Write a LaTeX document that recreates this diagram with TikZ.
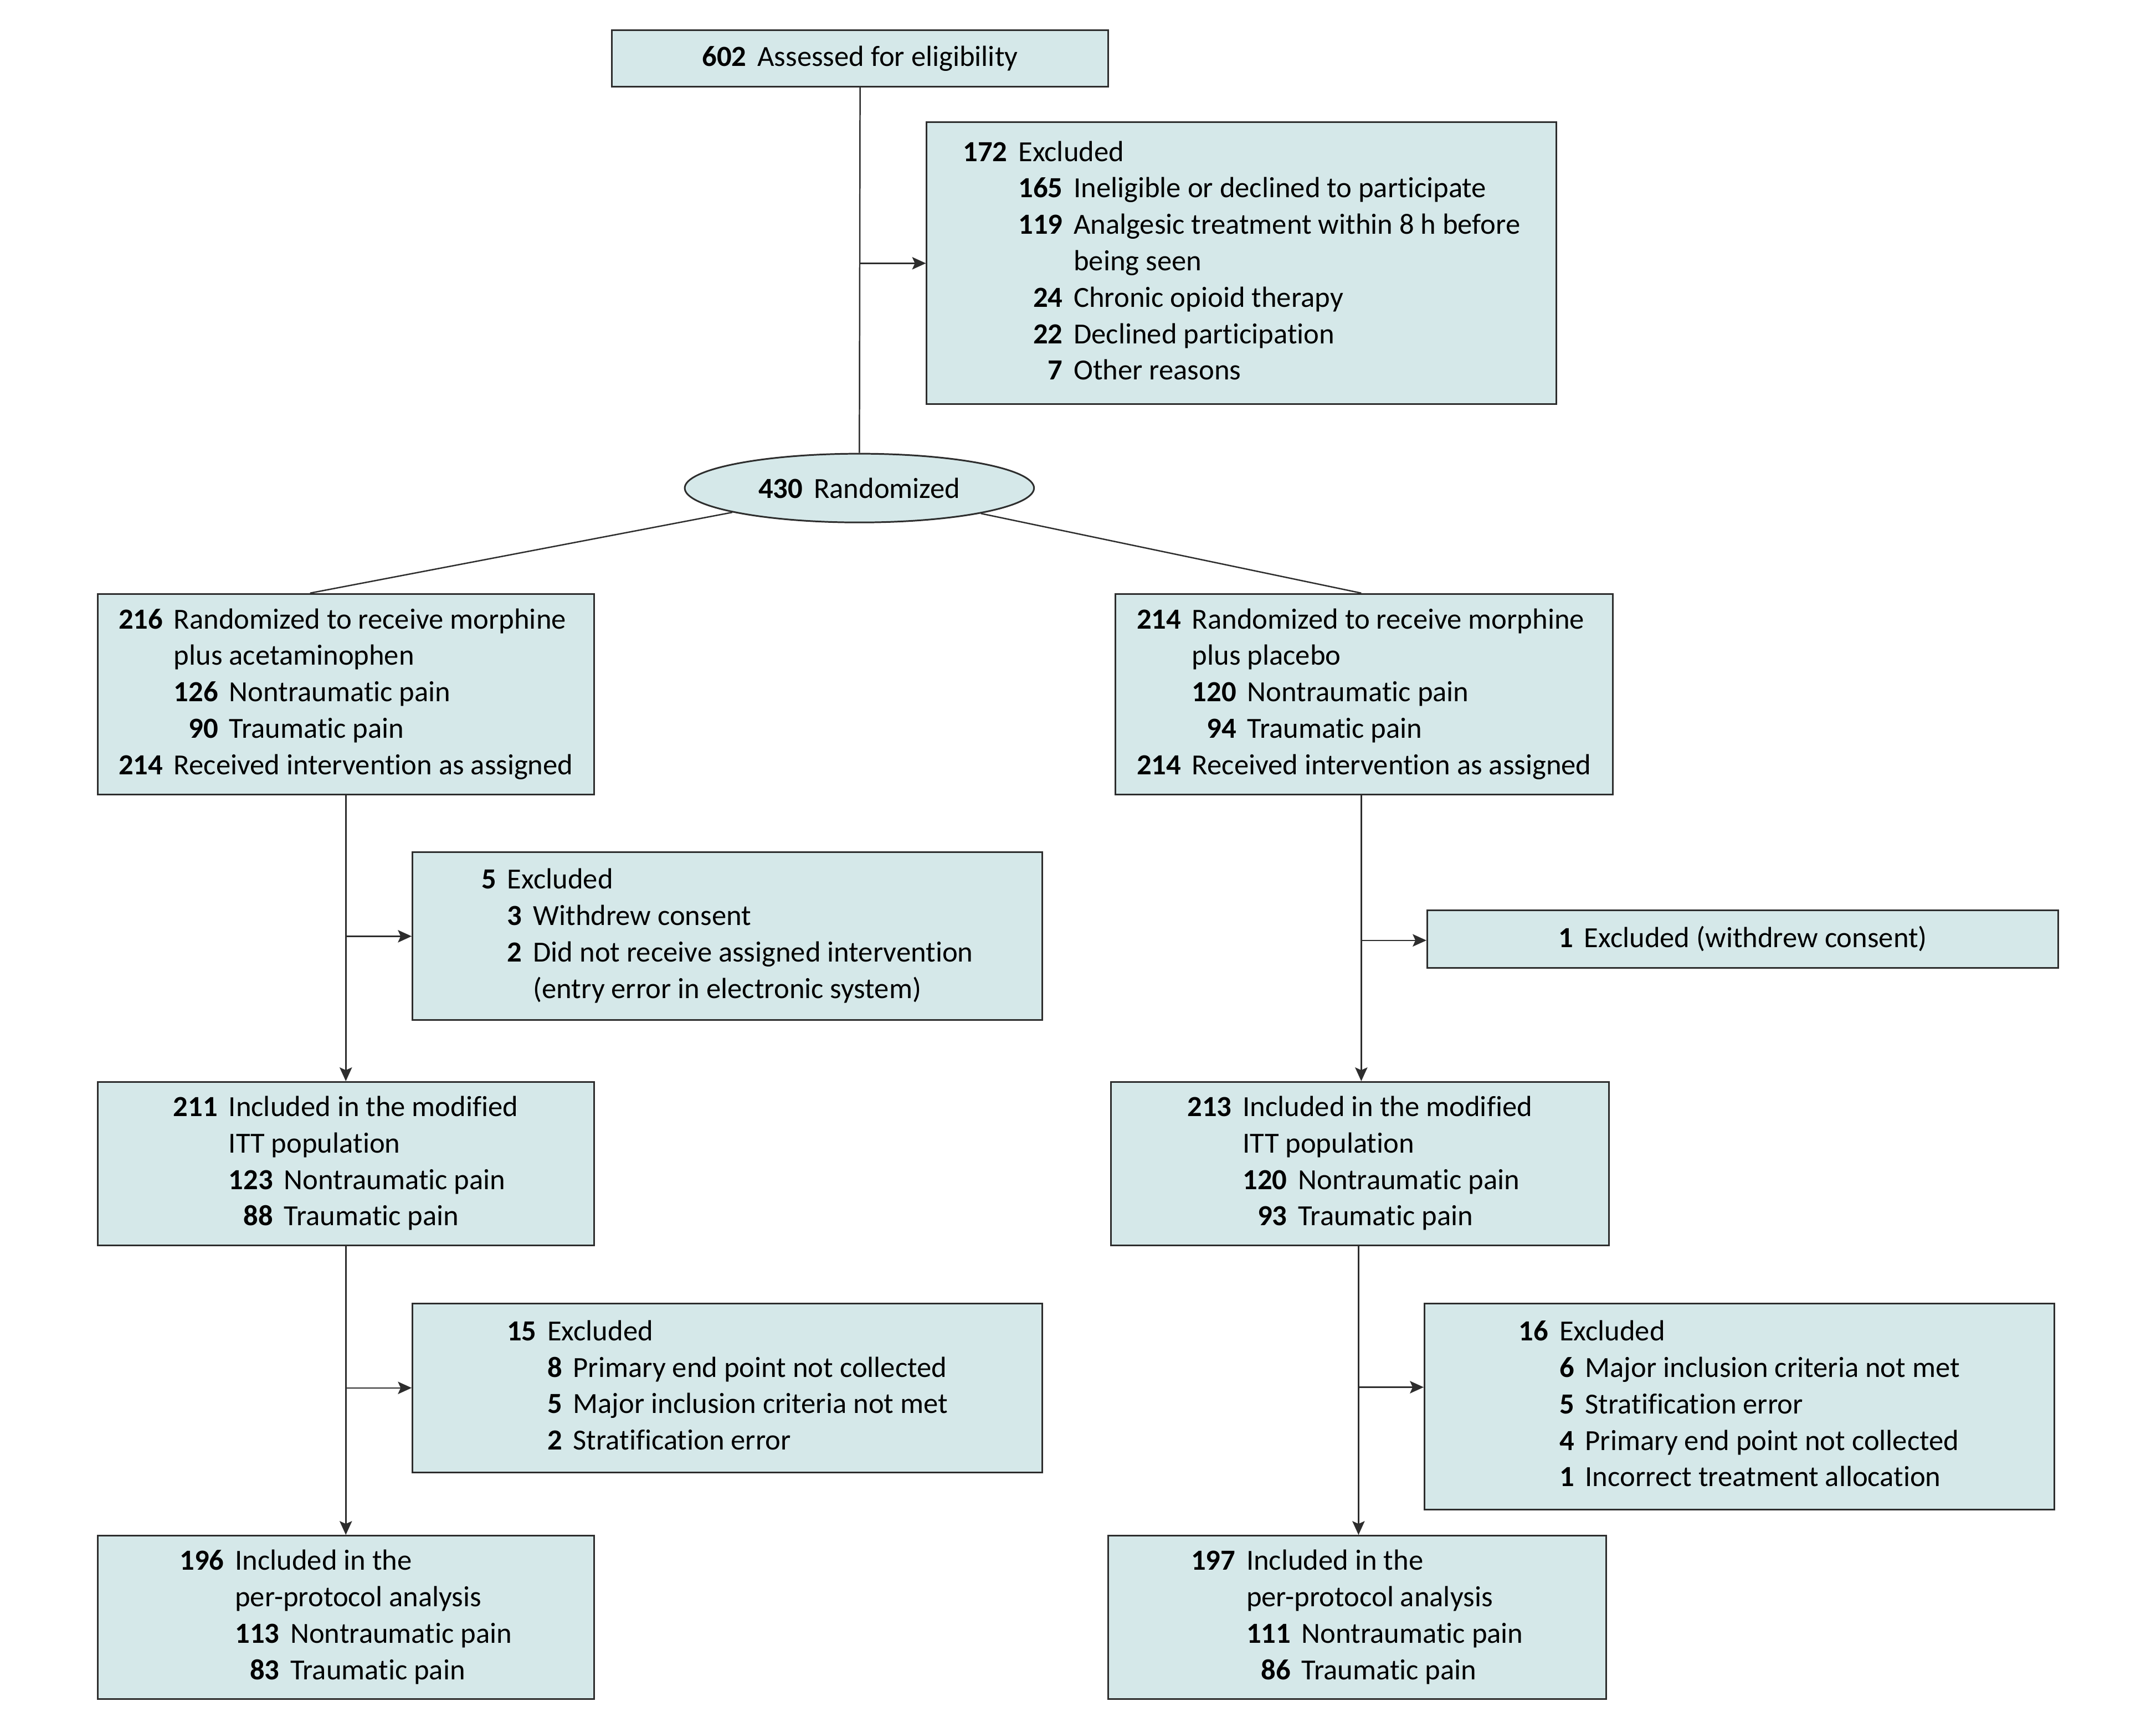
\documentclass[tikz,border=0pt]{standalone}
\usepackage{fontspec}
\setmainfont[Ligatures=NoCommon]{Carlito}
\usepackage{array}
\usetikzlibrary{shapes.geometric,arrows.meta}

\definecolor{boxfill}{RGB}{213,232,233}
\definecolor{linegray}{RGB}{45,45,45}
\newcolumntype{N}{>{\bfseries}r}
\newcommand{\wide}[1]{\multicolumn{2}{@{}l@{}}{#1}}

\tikzset{
   box/.style={draw=linegray, line width=1.2pt, fill=boxfill, inner sep=0pt,
      font=\fontsize{21.2}{26.5}\selectfont},
   flow/.style={draw=linegray, line width=1pt},
   arr/.style={flow, -{Stealth[length=10pt,width=9pt,inset=2pt]}}
}

\begin{document}
\begin{tikzpicture}[x=1pt,y=-1pt]
   \useasboundingbox (0,0) rectangle (1568,1256);

   \node[box, minimum width=361pt, minimum height=41pt] (assess) at (625.5,42.5)
      {\textbf{602}\hspace{8pt}Assessed for eligibility};

   \node[box, minimum width=458pt, minimum height=205pt] (excl) at (903,191.5) {
      \begin{tabular}{@{}N@{\hspace{8pt}}N@{\hspace{8pt}}l@{}}
      172 & \wide{Excluded} \\
          & 165 & Ineligible or declined to participate \\
          & 119 & Analgesic treatment within 8 h before \\
          &     & being seen \\
          & 24  & Chronic opioid therapy \\
          & 22  & Declined participation \\
          & 7   & Other reasons \\
      \end{tabular}
   };

   \node[box, ellipse, minimum width=254pt, minimum height=50pt] (rand) at (625,355)
      {\textbf{430}\hspace{8pt}Randomized};

   % first row: the two arms
   \node[box, minimum width=361pt, minimum height=146pt] (armL) at (251.5,505) {
      \begin{tabular}{@{}N@{\hspace{8pt}}N@{\hspace{8pt}}l@{}}
      216 & \wide{Randomized to receive morphine} \\
          & \wide{plus acetaminophen} \\
          & 126 & Nontraumatic pain \\
          & 90  & Traumatic pain \\
      214 & \wide{Received intervention as assigned} \\
      \end{tabular}
   };
   \node[box, minimum width=362pt, minimum height=146pt] (armR) at (992,505) {
      \begin{tabular}{@{}N@{\hspace{8pt}}N@{\hspace{8pt}}l@{}}
      214 & \wide{Randomized to receive morphine} \\
          & \wide{plus placebo} \\
          & 120 & Nontraumatic pain \\
          & 94  & Traumatic pain \\
      214 & \wide{Received intervention as assigned} \\
      \end{tabular}
   };

   \node[box, minimum width=458pt, minimum height=122pt] (exclL1) at (529,681) {
      \begin{tabular}{@{}N@{\hspace{8pt}}N@{\hspace{8pt}}l@{}}
      5 & \wide{Excluded} \\
        & 3 & Withdrew consent \\
        & 2 & Did not receive assigned intervention \\
        &   & (entry error in electronic system) \\
      \end{tabular}
   };
   \node[box, minimum width=459pt, minimum height=42pt] (exclR1) at (1267.5,683)
      {\textbf{1}\hspace{8pt}Excluded (withdrew consent)};

   % second row: modified ITT
   \node[box, minimum width=361pt, minimum height=119pt] (ittL) at (251.5,846.5) {
      \begin{tabular}{@{}N@{\hspace{8pt}}N@{\hspace{8pt}}l@{}}
      211 & \wide{Included in the modified} \\
          & \wide{ITT population} \\
          & 123 & Nontraumatic pain \\
          & 88  & Traumatic pain \\
      \end{tabular}
   };
   \node[box, minimum width=362pt, minimum height=119pt] (ittR) at (989,846.5) {
      \begin{tabular}{@{}N@{\hspace{8pt}}N@{\hspace{8pt}}l@{}}
      213 & \wide{Included in the modified} \\
          & \wide{ITT population} \\
          & 120 & Nontraumatic pain \\
          & 93  & Traumatic pain \\
      \end{tabular}
   };

   \node[box, minimum width=458pt, minimum height=123pt] (exclL2) at (529,1009.5) {
      \begin{tabular}{@{}N@{\hspace{8pt}}N@{\hspace{8pt}}l@{}}
      15 & \wide{Excluded} \\
         & 8 & Primary end point not collected \\
         & 5 & Major inclusion criteria not met \\
         & 2 & Stratification error \\
      \end{tabular}
   };
   \node[box, minimum width=458pt, minimum height=150pt] (exclR2) at (1265,1023) {
      \begin{tabular}{@{}N@{\hspace{8pt}}N@{\hspace{8pt}}l@{}}
      16 & \wide{Excluded} \\
         & 6 & Major inclusion criteria not met \\
         & 5 & Stratification error \\
         & 4 & Primary end point not collected \\
         & 1 & Incorrect treatment allocation \\
      \end{tabular}
   };

   % third row: per-protocol
   \node[box, minimum width=361pt, minimum height=119pt] (ppL) at (251.5,1176.5) {
      \begin{tabular}{@{}N@{\hspace{8pt}}N@{\hspace{8pt}}l@{}}
      196 & \wide{Included in the} \\
          & \wide{per-protocol analysis} \\
          & 113 & Nontraumatic pain \\
          & 83  & Traumatic pain \\
      \end{tabular}
   };
   \node[box, minimum width=362pt, minimum height=119pt] (ppR) at (987,1176.5) {
      \begin{tabular}{@{}N@{\hspace{8pt}}N@{\hspace{8pt}}l@{}}
      197 & \wide{Included in the} \\
          & \wide{per-protocol analysis} \\
          & 111 & Nontraumatic pain \\
          & 86  & Traumatic pain \\
      \end{tabular}
   };

   \coordinate (bR1) at (990,684);
   \coordinate (bR2) at (988,1009);

   \draw[flow] (assess.south) -- (rand.north);
   \draw[arr] (assess.south |- excl.west) -- (excl.west);
   \draw[flow] (rand) -- ([xshift=-26pt]armL.north);
   \draw[flow] (rand) -- (bR1 |- armR.north);

   \draw[arr] (armL.south) -- (ittL.north);
   \draw[arr] (armL.south |- exclL1.west) -- (exclL1.west);
   \draw[arr] (bR1 |- armR.south) -- (bR1 |- ittR.north);
   \draw[arr] (bR1) -- (bR1 -| exclR1.west);

   \draw[arr] (ittL.south) -- (ppL.north);
   \draw[arr] (ittL.south |- exclL2.west) -- (exclL2.west);
   \draw[arr] (bR2 |- ittR.south) -- (bR2 |- ppR.north);
   \draw[arr] (bR2) -- (bR2 -| exclR2.west);
\end{tikzpicture}
\end{document}
